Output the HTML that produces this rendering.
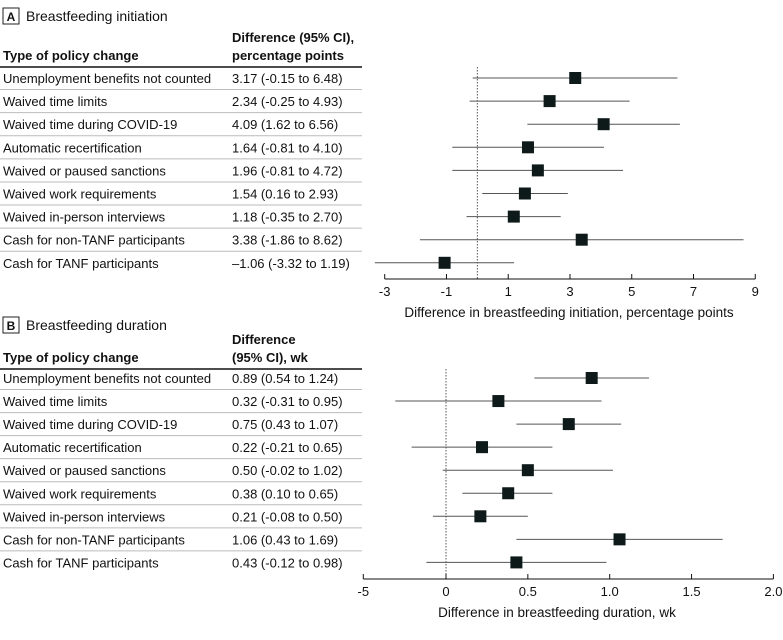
<!DOCTYPE html>
<html><head><meta charset="utf-8"><style>
body{margin:0;background:#fff}
svg text{font-family:"Liberation Sans",sans-serif;fill:#111}
</style></head><body>
<svg id="fig" width="783" height="635" xmlns="http://www.w3.org/2000/svg"></svg>
<script>
const labels=["Unemployment benefits not counted","Waived time limits","Waived time during COVID-19","Automatic recertification","Waived or paused sanctions","Waived work requirements","Waived in-person interviews","Cash for non-TANF participants","Cash for TANF participants"];
const aEst=[3.17,2.34,4.09,1.64,1.96,1.54,1.18,3.38,-1.06];
const aLo=[-0.15,-0.25,1.62,-0.81,-0.81,0.16,-0.35,-1.86,-3.32];
const aHi=[6.48,4.93,6.56,4.10,4.72,2.93,2.70,8.62,1.19];
const aTicks=[-3,-1,1,3,5,7,9];
const bEst=[0.89,0.32,0.75,0.22,0.50,0.38,0.21,1.06,0.43];
const bLo=[0.54,-0.31,0.43,-0.21,-0.02,0.10,-0.08,0.43,-0.12];
const bHi=[1.24,0.95,1.07,0.65,1.02,0.65,0.50,1.69,0.98];
const bTicks=[0,0.5,1.0,1.5,2.0];
const bTickLabels=["0","0.5","1.0","1.5","2.0"];
const svg=document.getElementById('fig');
const NS="http://www.w3.org/2000/svg";
function mk(tag,attrs,txt){const e=document.createElementNS(NS,tag);for(const k in attrs)e.setAttribute(k,attrs[k]);if(txt!==undefined)e.textContent=txt;svg.appendChild(e);return e;}
function fmt(v){return (v<0?"\u2013":"")+Math.abs(v).toFixed(2);}
function fmtCI(v){return (v<0?"-":"")+Math.abs(v).toFixed(2);}
function panel(p){
  let e=mk('rect',{x:3,y:p.top,width:16,height:16,fill:'none',stroke:'#222','stroke-width':1});
  
  
  e=mk('text',{x:11,y:p.top+13,'font-size':12,'font-weight':'bold','text-anchor':'middle'},p.letter);
  
  
  e=mk('text',{x:26,y:p.top+13,'font-size':14},p.title);
  
  
  e=mk('text',{x:3,y:p.hdrY,'font-size':13,'font-weight':'bold'},"Type of policy change");
  
  
  p.hdr2.forEach((t,i)=>{
    const h=mk('text',{x:232,y:p.hdrY-18*(p.hdr2.length-1-i),'font-size':13,'font-weight':'bold'},t);
    
    
  });
  e=mk('line',{x1:0,x2:362,y1:p.rule,y2:p.rule,stroke:'#111','stroke-width':1.5});
  
  
  e=mk('line',{x1:p.sx(0),x2:p.sx(0),y1:p.rule,y2:p.axisY,stroke:'#555','stroke-width':1,'stroke-dasharray':'1.5,1.5'});
  
  
  p.est.forEach((v,i)=>{
    const y=p.row0+i*p.step;
    if(i>0){
      const s=mk('line',{x1:0,x2:362,y1:y-p.step/2,y2:y-p.step/2,stroke:'#bbb','stroke-width':1});
      
      
    }
    const l=mk('text',{x:3,y:y+5,'font-size':13},labels[i]);
    
    
    const c=mk('text',{x:232,y:y+5,'font-size':13},fmt(v)+" ("+fmtCI(p.lo[i])+" to "+fmtCI(p.hi[i])+")");
    
    
    const w=mk('line',{x1:p.sx(p.lo[i]),x2:p.sx(p.hi[i]),y1:y,y2:y,stroke:'#555','stroke-width':1});
    
    
    const m=mk('rect',{x:p.sx(v)-6,y:y-6,width:12,height:12,fill:'#0e1a1a'});
    
    
  });
  e=mk('line',{x1:p.axL,x2:p.axR,y1:p.axisY,y2:p.axisY,stroke:'#111','stroke-width':1});
  
  
  p.ticks.forEach((t,i)=>{
    const x=p.tickX(t);
    const tl=mk('line',{x1:x,x2:x,y1:p.axisY,y2:p.axisY-5,stroke:'#111','stroke-width':1});
    
    
    const tt=mk('text',{x:x,y:p.axisY+17,'font-size':13,'text-anchor':'middle'},p.tickLabels[i]);
    
    
  });
  e=mk('text',{x:p.axTitleX,y:p.axisY+38,'font-size':13.5,'text-anchor':'middle'},p.axTitle);
  
  
}
const aScale=v=>384.7+(v+3)*30.88;
panel({key:'initiation',letter:'A',title:'Breastfeeding initiation',top:8,hdrY:60,hdr2:["Difference (95% CI),","percentage points"],rule:67,
  row0:78,step:23.1,est:aEst,lo:aLo,hi:aHi,sx:aScale,axisY:279,axL:384.7,axR:755.3,ticks:aTicks,tickLabels:aTicks.map(String),tickX:aScale,
  axTitle:"Difference in breastfeeding initiation, percentage points",axTitleX:569});
const bScale=v=>446+v*163.7;
panel({key:'duration',letter:'B',title:'Breastfeeding duration',top:317,hdrY:362,hdr2:["Difference","(95% CI), wk"],rule:369,
  row0:378,step:23.05,est:bEst,lo:bLo,hi:bHi,sx:bScale,axisY:579,axL:363.3,axR:773.3,ticks:[-5].concat(bTicks),tickLabels:["-5"].concat(bTickLabels),
  tickX:t=>t===-5?363.3:bScale(t),axTitle:"Difference in breastfeeding duration, wk",axTitleX:557});
</script>
</body></html>
